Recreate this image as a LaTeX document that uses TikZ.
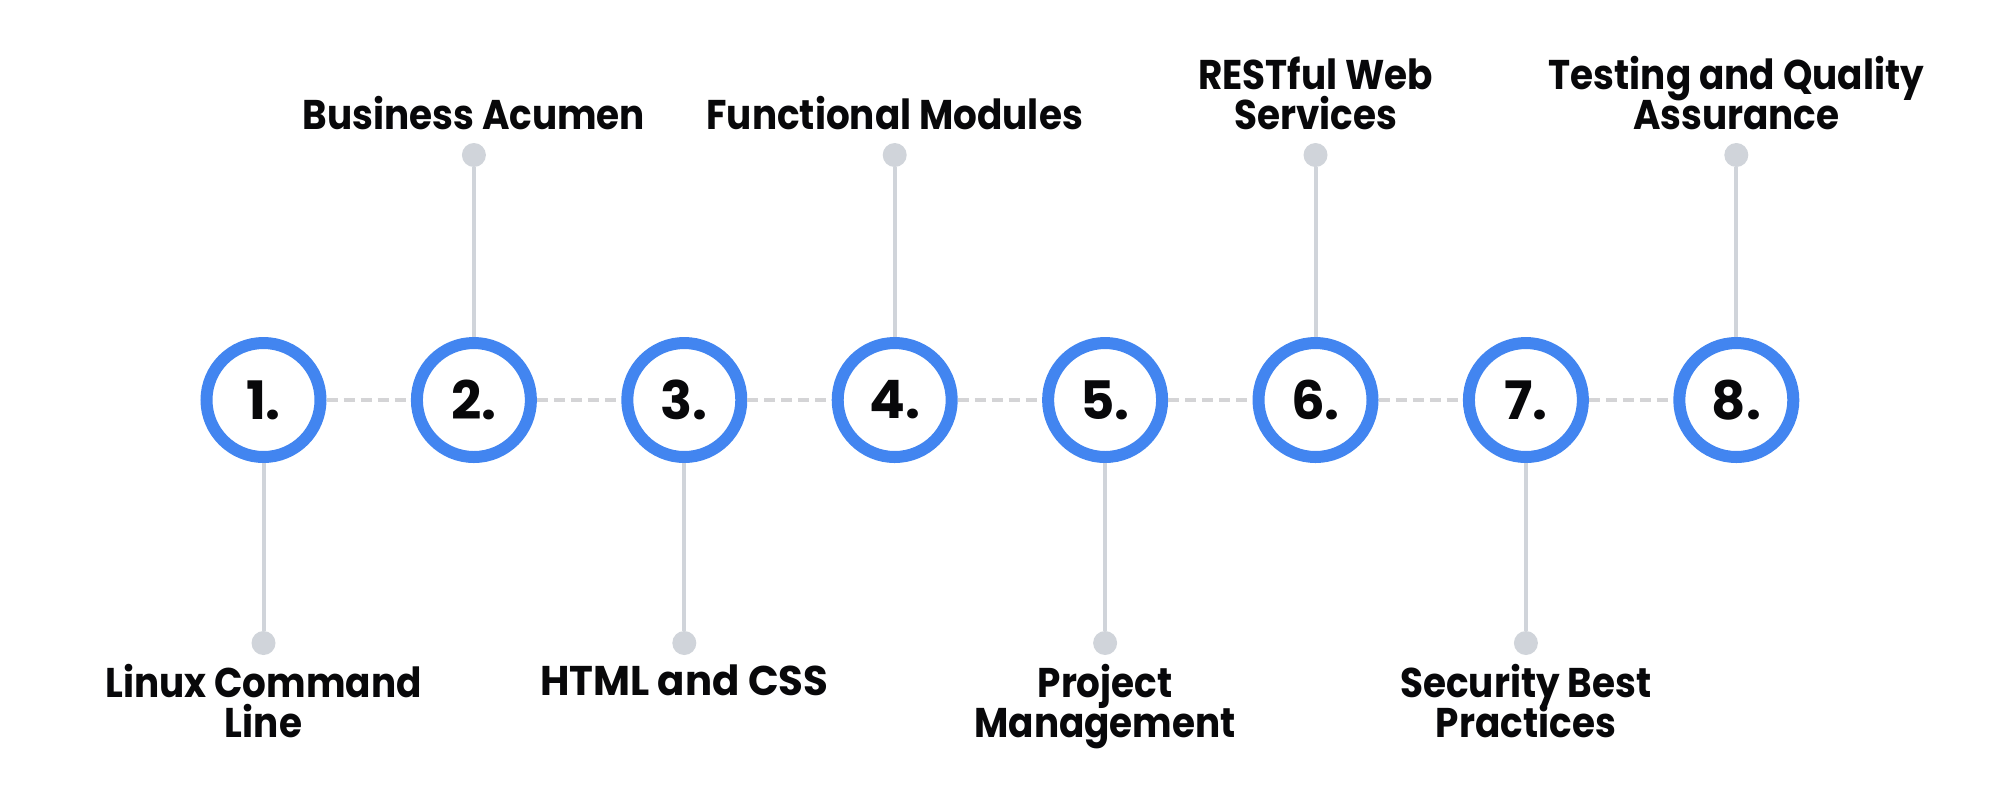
\documentclass[tikz,border=0pt]{standalone}
\usepackage{fontspec}
\setmainfont{Poppins}
\newfontfamily\lblfont{Poppins}[FakeStretch=0.9]
\newfontfamily\lblwide{Poppins}[FakeStretch=0.97]
\definecolor{ringblue}{RGB}{66,133,240}
\definecolor{dashgray}{RGB}{212,212,214}
\definecolor{stemgray}{RGB}{208,212,218}
\definecolor{inkblack}{RGB}{8,8,10}
\newcommand{\lblsetup}{\lblfont\fontsize{20.75pt}{20pt}\selectfont\bfseries\lineskiplimit=-100pt\relax}
\begin{document}
\begin{tikzpicture}[x=0.5pt,y=-0.5pt,
  ring/.style={circle, draw=ringblue, line width=6pt, fill=white, minimum size=57pt,
    inner sep=0pt, text=inkblack, font=\fontsize{26.5pt}{30pt}\selectfont\bfseries},
  dot/.style={circle, fill=stemgray, minimum size=12pt, inner sep=0pt},
  link/.style={draw=dashgray, line width=2pt, dash pattern=on 5.5pt off 3pt},
  stem/.style={draw=stemgray, line width=2pt},
  lbl/.style={inner sep=0pt, align=center, text=inkblack, font=\lblsetup},
  toplbl/.style={lbl, anchor=south},
  botlbl/.style={lbl, anchor=north}]
\useasboundingbox (0,0) rectangle (2000,800);
% column positions
\foreach \i in {1,...,8} {
  \pgfmathsetmacro{\cx}{263.5+(\i-1)*210.4}
  \coordinate (x\i) at (\cx,400);
}
\foreach \i/\t in {2/{Business Acumen},4/{Functional Modules},6/{RESTful Web\\Services},8/{Testing and Quality\\Assurance}} {
  \path (x\i) ++(0,-245) node[dot] (d\i) {};
  \path (x\i) ++(0,-270) node[toplbl] (l\i) {\t};
}
\foreach \i/\t in {1/{Linux Command\\Line},3/{\lblwide\bfseries HTML and CSS},5/{Project\\Management},7/{Security Best\\Practices}} {
  \path (x\i) ++(0,243) node[dot] (d\i) {};
  \path (x\i) ++(0,264) node[botlbl] (l\i) {\t};
}
\foreach \i in {1,...,8} \node[ring] (c\i) at (x\i) {\i.};
\foreach \i in {1,...,8} \draw[stem] (c\i) -- (d\i);
\foreach \i [evaluate=\i as \j using int(\i+1)] in {1,...,7} \draw[link] (c\i) -- (c\j);
\end{tikzpicture}
\end{document}
